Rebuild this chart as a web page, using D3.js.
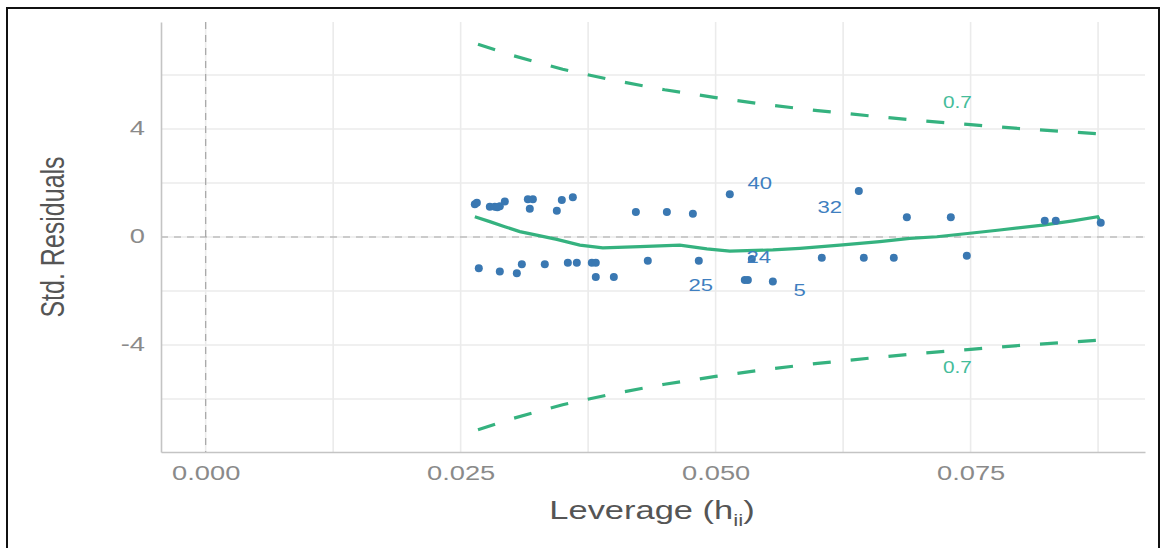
<!DOCTYPE html>
<html>
<head>
<meta charset="utf-8">
<script src="https://cdn.jsdelivr.net/npm/d3@7"></script>
<style>
  body { margin: 0; background: #fff; }
  svg { font-family: "Liberation Sans", Arial, sans-serif; }
</style>
</head>
<body>
<div id="chart"></div>
<script>
// leverage / std. residual of each observation
const leverage = [
    0.02639, 0.02659, 0.02786, 0.02835, 0.02884, 0.02860, 0.02933, 0.03159, 0.03208, 0.03178,
    0.03443, 0.03492, 0.03600, 0.04218, 0.04522, 0.04777, 0.05139, 0.06404, 0.06875, 0.07306,
    0.08227, 0.08335, 0.08776,
    0.02678, 0.02884, 0.03051, 0.03100, 0.03325, 0.03551, 0.03639, 0.03786, 0.03825, 0.03825,
    0.04002, 0.04335, 0.04835, 0.05286, 0.05316, 0.05355, 0.05561, 0.06041, 0.06453, 0.06747,
    0.07463
];
const stdResid = [
    1.21, 1.27, 1.12, 1.12, 1.14, 1.10, 1.31, 1.40, 1.40, 1.05,
    0.97, 1.37, 1.47, 0.93, 0.93, 0.86, 1.58, 1.70, 0.73, 0.73,
    0.60, 0.60, 0.53,
    -1.16, -1.28, -1.34, -1.01, -1.01, -0.95, -0.95, -0.95, -0.95, -1.48,
    -1.48, -0.88, -0.88, -1.59, -1.59, -0.81, -1.65, -0.77, -0.77, -0.77,
    -0.69
];

// labelled observations (repelled label positions, in data units)
const labelIds = ['40', '32', '24', '25', '5'];
const labelX = [0.05433, 0.06120, 0.05424, 0.04855, 0.05825];
const labelY = [1.93, 1.07, -0.78, -1.85, -2.00];

// smoothed trend
const smoothX = [0.02639, 0.02786, 0.02933, 0.03080, 0.03245, 0.03443, 0.03669, 0.03894, 0.04257,
    0.04649, 0.04914, 0.05139, 0.05561, 0.05826, 0.06218, 0.06610, 0.06904, 0.07169, 0.07492,
    0.07786, 0.08208, 0.08502, 0.08747, 0.08776];
const smoothY = [0.75, 0.57, 0.38, 0.20, 0.07, -0.09, -0.30, -0.40, -0.36,
    -0.30, -0.44, -0.52, -0.48, -0.42, -0.30, -0.17, -0.05, 0.01, 0.14,
    0.26, 0.44, 0.60, 0.75, 0.53];

// Cook's distance contour (0.7), upper half; lower is its mirror
const cookX = [0.0267, 0.030, 0.035, 0.040, 0.045, 0.050, 0.055, 0.060, 0.065, 0.070, 0.075, 0.080, 0.0877];
const cookY = [7.14, 6.73, 6.21, 5.80, 5.45, 5.16, 4.90, 4.68, 4.49, 4.31, 4.16, 4.01, 3.82];
const cookLevel = '0.7';
const cookLabelX = 0.0737;
const cookLabelY = [4.92, -4.88];

const xTicks = [0, 0.025, 0.05, 0.075];
const xMinor = [0.0125, 0.0375, 0.0625, 0.0875];
const yTicks = [-4, 0, 4];
const yMinor = [-6, -2, 2, 6];

const width = 1161, height = 548;
const margin = { top: 22, right: 16, bottom: 96, left: 161 };
const stretch = 1.3;   // the reference text is drawn wide

const svg = d3.select('#chart')
    .append('svg')
    .attr('width', width)
    .attr('height', height);

// outer frame
svg.append('rect')
    .attr('x', 7).attr('y', 8)
    .attr('width', 1152).attr('height', 560)
    .attr('fill', 'none')
    .attr('stroke', '#111')
    .attr('stroke-width', 2);

const x = d3.scaleLinear()
    .domain([-0.00438, 0.0921])
    .range([margin.left, width - margin.right]);
const y = d3.scaleLinear()
    .domain([-7.96, 7.96])
    .range([height - margin.bottom, margin.top]);

const g = svg.append('g');

// grid
g.selectAll('.vgrid')
    .data(xTicks.concat(xMinor))
    .enter().append('line')
    .attr('x1', d => x(d)).attr('x2', d => x(d))
    .attr('y1', y.range()[1]).attr('y2', y.range()[0])
    .attr('stroke', '#ebebeb').attr('stroke-width', 1.6);
g.selectAll('.hgrid')
    .data(yTicks.concat(yMinor))
    .enter().append('line')
    .attr('x1', x.range()[0]).attr('x2', x.range()[1])
    .attr('y1', d => y(d)).attr('y2', d => y(d))
    .attr('stroke', '#ebebeb').attr('stroke-width', 1.6);

// reference lines
g.append('line')
    .attr('x1', x.range()[0]).attr('x2', x.range()[1])
    .attr('y1', y(0)).attr('y2', y(0))
    .attr('stroke', '#a6a6a6').attr('stroke-width', 1.2)
    .attr('stroke-dasharray', '7,6');
g.append('line')
    .attr('x1', x(0)).attr('x2', x(0))
    .attr('y1', y.range()[1]).attr('y2', y.range()[0])
    .attr('stroke', '#a6a6a6').attr('stroke-width', 1.2)
    .attr('stroke-dasharray', '7,6');

// axes
const xAxis = d3.axisBottom(x).tickValues(xTicks).tickFormat(d3.format('.3f')).tickSize(0).tickPadding(0);
const yAxis = d3.axisLeft(y).tickValues(yTicks).tickFormat(d => String(d).replace('\u2212', '-')).tickSize(0).tickPadding(0);

const gx = svg.append('g')
    .attr('transform', `translate(0, ${y.range()[0]})`)
    .call(xAxis);
const gy = svg.append('g')
    .attr('transform', `translate(${x.range()[0]}, 0)`)
    .call(yAxis);

[gx, gy].forEach(a => {
    a.select('.domain').attr('stroke', '#c4c4c4').attr('stroke-width', 1.6);
    a.selectAll('text')
        .attr('fill', '#8a8a8a')
        .attr('font-family', null)
        .attr('font-size', null)
        .style('font-size', '21px');
});
gx.selectAll('text')
    .attr('x', 0).attr('y', 0).attr('dy', null)
    .attr('dominant-baseline', 'middle')
    .attr('transform', `translate(0, 22) scale(${stretch}, 1)`);
gy.selectAll('text')
    .attr('x', 0).attr('dy', null)
    .attr('dominant-baseline', 'middle')
    .attr('transform', `translate(-16, 0) scale(${stretch}, 1)`);

// titles
svg.append('text')
    .attr('transform', `translate(64, ${y(0)}) scale(${stretch}, 1) rotate(-90)`)
    .attr('text-anchor', 'middle')
    .attr('fill', '#555')
    .style('font-size', '25px')
    .text('Std. Residuals');

const xt = svg.append('text')
    .attr('transform', `translate(652, 519) scale(${stretch * 1.02}, 1)`)
    .attr('text-anchor', 'middle')
    .attr('fill', '#555')
    .style('font-size', '26px');
xt.append('tspan').text('Leverage (h');
xt.append('tspan').attr('dy', 7).style('font-size', '17px').text('ii');
xt.append('tspan').attr('dy', -7).text(')');

// Cook's contours
const cookLine = d3.line().x(d => x(d[0])).y(d => y(d[1]));
const green = '#35b27f';
[1, -1].forEach(s => {
    g.append('path')
        .datum(cookX.map((h, i) => [h, s * cookY[i]]))
        .attr('d', cookLine)
        .attr('fill', 'none')
        .attr('stroke', green)
        .attr('stroke-width', 3.2)
        .attr('stroke-dasharray', '18,20');
});
g.selectAll('.cooklab')
    .data(cookLabelY)
    .enter().append('text')
    .attr('transform', d => `translate(${x(cookLabelX)}, ${y(d)}) scale(${stretch}, 1)`)
    .attr('text-anchor', 'middle')
    .attr('dominant-baseline', 'middle')
    .attr('fill', '#45bc9a')
    .style('font-size', '16px')
    .text(cookLevel);

// smooth
g.append('path')
    .datum(smoothX.map((h, i) => [h, smoothY[i]]))
    .attr('d', cookLine)
    .attr('fill', 'none')
    .attr('stroke', green)
    .attr('stroke-width', 3.2);

// points
g.selectAll('.pt')
    .data(leverage)
    .enter().append('circle')
    .attr('cx', d => x(d))
    .attr('cy', (d, i) => y(stdResid[i]))
    .attr('r', 4)
    .attr('fill', '#3a78b2');

// point labels
g.selectAll('.plab')
    .data(labelIds)
    .enter().append('text')
    .attr('transform', (d, i) => `translate(${x(labelX[i])}, ${y(labelY[i])}) scale(${stretch}, 1)`)
    .attr('text-anchor', 'middle')
    .attr('dominant-baseline', 'middle')
    .attr('fill', '#3f7fc0')
    .style('font-size', '17px')
    .text(d => d);
</script>
</body>
</html>
